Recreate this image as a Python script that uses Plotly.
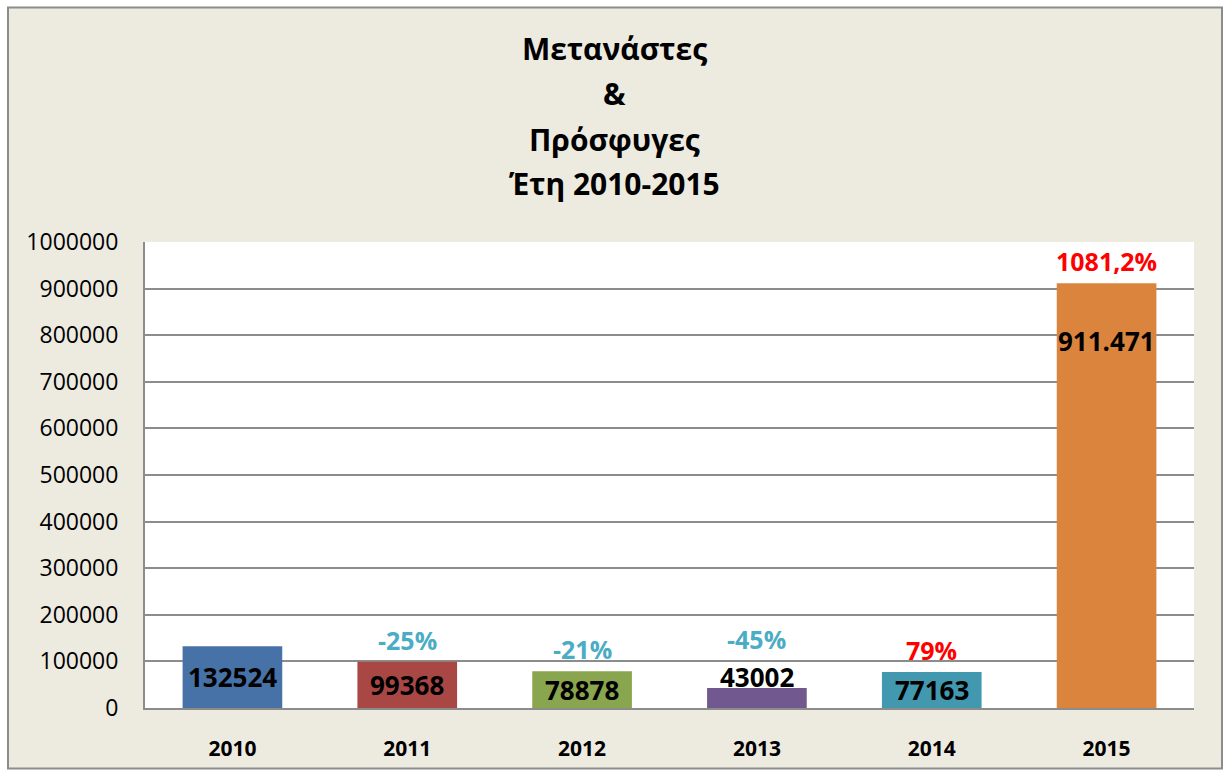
import plotly.graph_objects as go

years = ["2010", "2011", "2012", "2013", "2014", "2015"]
values = [132524, 99368, 78878, 43002, 77163, 911471]
value_labels = ["132524", "99368", "78878", "43002", "77163", "911.471"]
pct_labels = ["", "-25%", "-21%", "-45%", "79%", "1081,2%"]
bar_colors = ["#4672A8", "#A94744", "#89A54E", "#71588F", "#4198AF", "#DB843D"]
title_lines = ["Μετανάστες", "&", "Πρόσφυγες", "Έτη 2010-2015"]
y_ticks = [0, 100000, 200000, 300000, 400000, 500000, 600000, 700000, 800000, 900000, 1000000]

FONT = "Open Sans"
W, H = 1226, 774
ML, MR, MT, MB = 145, 32, 242, 63
plot_w = W - ML - MR
plot_h = H - MT - MB

fig = go.Figure()
fig.add_trace(go.Bar(
    x=years, y=values, marker=dict(color=bar_colors, line=dict(width=0)),
    width=0.57, showlegend=False, hoverinfo="x+y"))

ann = []
# value labels (x as category index)
for i, (yr, v, lab) in enumerate(zip(years, values, value_labels)):
    if yr == "2013":
        ann.append(dict(x=i, y=v, text=f"<b>{lab}</b>", showarrow=False,
                        yanchor="bottom", yshift=-9,
                        font=dict(family=FONT, size=26, color="#000")))
    elif yr == "2015":
        ann.append(dict(x=i, y=v, text=f"<b>{lab}</b>", showarrow=False,
                        yanchor="top", yshift=-38,
                        font=dict(family=FONT, size=26, color="#000")))
    else:
        ann.append(dict(x=i, y=v / 2, text=f"<b>{lab}</b>", showarrow=False,
                        yanchor="middle",
                        font=dict(family=FONT, size=26, color="#000")))
# percentage labels
for i, (yr, v, p) in enumerate(zip(years, values, pct_labels)):
    if not p:
        continue
    col = "#4BACC6" if p.startswith("-") else "#FF0000"
    shift = 49 if yr == "2013" else 22
    ann.append(dict(x=i, y=v, text=f"<b>{p}</b>", showarrow=False,
                    yanchor="middle", yshift=shift,
                    font=dict(family=FONT, size=25, color=col)))
# title lines
for line, py in zip(title_lines, [47, 93, 139, 183]):
    ann.append(dict(xref="paper", yref="paper", x=(614 - ML) / plot_w,
                    y=(H - MB - py) / plot_h, text=f"<b>{line}</b>",
                    showarrow=False, xanchor="center", yanchor="middle",
                    font=dict(family=FONT, size=30, color="#000")))

fig.update_layout(
    width=W, height=H,
    margin=dict(l=ML, r=MR, t=MT, b=MB, pad=0),
    paper_bgcolor="white",
    plot_bgcolor="white",
    bargap=0.43,
    annotations=ann,
    shapes=[
        dict(type="rect", xref="paper", yref="paper",
             x0=(8 - ML) / plot_w, x1=(1222 - ML) / plot_w,
             y0=(H - MB - 772) / plot_h, y1=(H - MB - 6) / plot_h,
             fillcolor="#EDEAE0", line=dict(color="#8C8C8C", width=2),
             layer="below"),
        dict(type="rect", xref="paper", yref="paper", x0=0, x1=1, y0=0, y1=1,
             fillcolor="white", line=dict(width=0), layer="below"),
    ],
    xaxis=dict(type="category", range=[-0.5, len(years) - 0.5], autorange=False,
               showgrid=False, showline=True,
               linecolor="#8C8C8C", linewidth=2,
               ticks="", ticklabelstandoff=21,
               tickfont=dict(family=FONT, size=21, color="#000", weight="bold")),
    yaxis=dict(range=[0, 1000000], tickvals=y_ticks, tickformat="d",
               showgrid=True, gridcolor="#8C8C8C", gridwidth=1.5,
               showline=True, linecolor="#8C8C8C", linewidth=2,
               zeroline=False, ticks="", ticklabelstandoff=20,
               tickfont=dict(family=FONT, size=23, color="#000")),
)

fig.write_html("out.html", config={"displayModeBar": False},
               post_script="document.body.style.margin='0';document.body.style.overflow='hidden';")
